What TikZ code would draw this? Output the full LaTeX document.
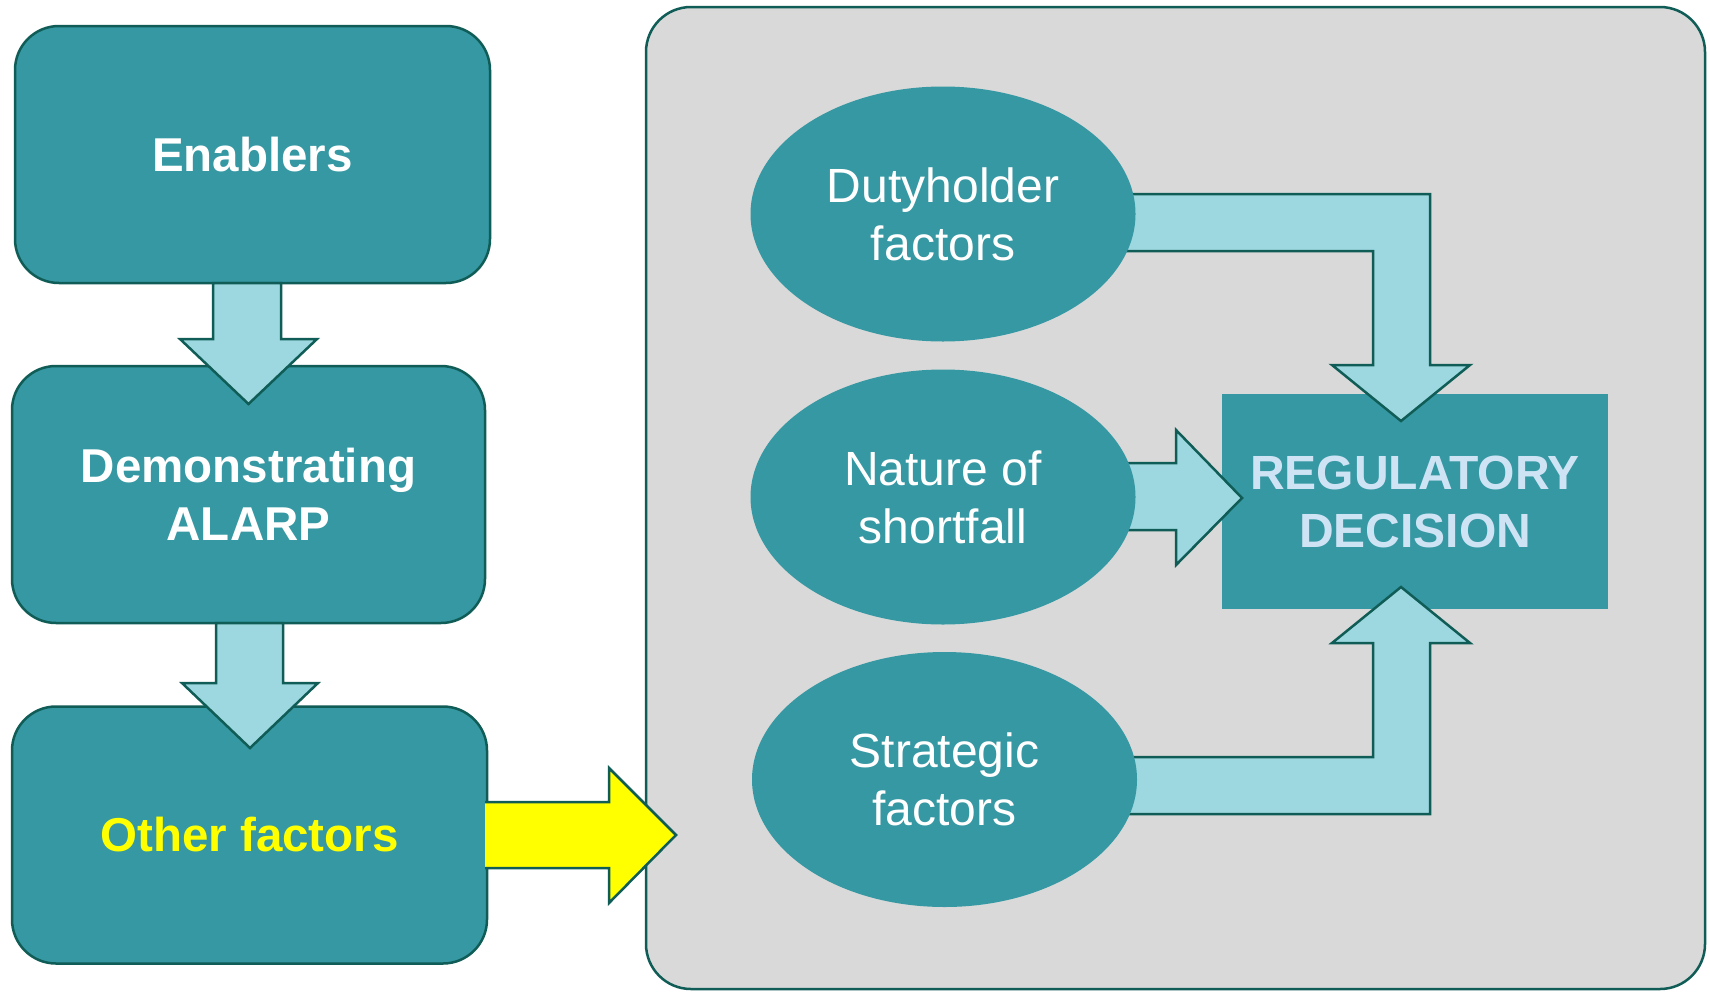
\documentclass[tikz,border=0pt]{standalone}
\usepackage{fontspec}
\setmainfont{Liberation Sans}
\usetikzlibrary{shapes.geometric}
\definecolor{tealfill}{RGB}{53,152,163}
\definecolor{darkline}{RGB}{16,92,86}
\definecolor{lightarrow}{RGB}{157,216,224}
\definecolor{panelgray}{RGB}{217,217,217}
\definecolor{regtext}{RGB}{206,228,245}
\definecolor{brightyellow}{RGB}{255,255,0}
\tikzset{
  leftbox/.style={draw=darkline, line width=2.5pt, fill=tealfill, rounded corners=44pt,
    inner sep=0pt, minimum width=475pt, minimum height=257pt, align=center,
    font=\fontsize{47.5}{58}\selectfont\bfseries, text=white},
  factor/.style={ellipse, fill=tealfill, inner sep=0pt, minimum width=385pt, minimum height=255pt,
    align=center, font=\fontsize{48}{58}\selectfont, text=white},
  blockarrow/.style={draw=darkline, line width=2.5pt, fill=lightarrow, line join=miter},
  yellowarrow/.style={draw=darkline, line width=2.5pt, fill=brightyellow, line join=miter},
}
\begin{document}
\begin{tikzpicture}[x=1pt,y=-1pt]
\useasboundingbox[fill=white] (0,0) rectangle (1710,991);

% panel
\node[draw=darkline, line width=2.5pt, fill=panelgray, rounded corners=45pt, inner sep=0pt,
  minimum width=1059pt, minimum height=982pt] (panel) at (1175.5,498) {};

% left boxes
\node[leftbox] (en) at (252.5,154.5) {Enablers};
\node[leftbox, minimum width=473pt] (demo) at (248.5,494.5) {Demonstrating\\ALARP};
\node[leftbox, text=brightyellow] (other) at (249.5,835) {Other factors};

% regulatory decision box
\node[fill=tealfill, inner sep=0pt, minimum width=386pt, minimum height=215pt, align=center,
  font=\fontsize{48}{58}\selectfont\bfseries, text=regtext] (reg) at (1415,501.5) {REGULATORY\\DECISION};

% down arrows on the left
\draw[blockarrow] (213,283) -- (281,283) -- (281,339) -- (317,339) -- (248.5,404)
  -- (180,339) -- (213,339) -- cycle;
\draw[blockarrow] (216,623) -- (283,623) -- (283,683) -- (318,683) -- (250,748)
  -- (182,683) -- (216,683) -- cycle;

% yellow arrow
\draw[yellowarrow] (485,802) -- (609,802) -- (609,768) -- (676,835) -- (609,903)
  -- (609,868) -- (485,868);

% arrows into decision
\draw[blockarrow] (1090,194) -- (1430,194) -- (1430,365) -- (1470,365) -- (1401,421)
  -- (1332,365) -- (1373,365) -- (1373,251) -- (1090,251);
\draw[blockarrow] (1090,463) -- (1176,463) -- (1176,430) -- (1242,498) -- (1176,565)
  -- (1176,530) -- (1090,530);
\draw[blockarrow] (1090,814) -- (1430,814) -- (1430,643) -- (1470,643) -- (1401,587)
  -- (1332,643) -- (1373,643) -- (1373,757) -- (1090,757);

% factor ellipses
\node[factor] (duty) at (943,214) {Dutyholder\\factors};
\node[factor] (nature) at (943,497) {Nature of\\shortfall};
\node[factor] (strat) at (944.5,779.5) {Strategic\\factors};
\end{tikzpicture}
\end{document}
